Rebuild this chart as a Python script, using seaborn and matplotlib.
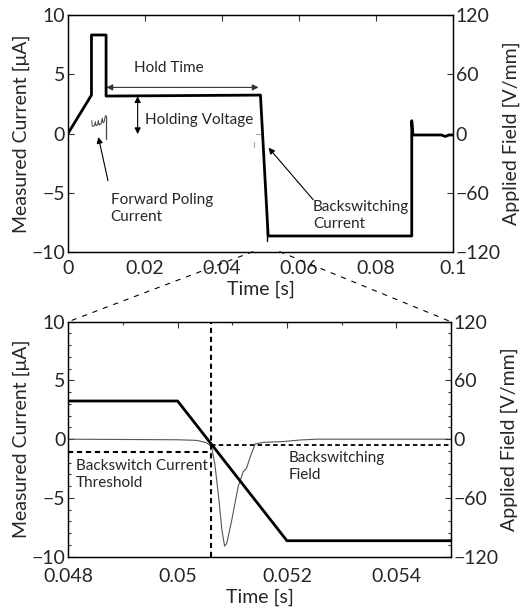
import numpy as np
import pandas as pd
import matplotlib
matplotlib.use("Agg")
import matplotlib.pyplot as plt
import seaborn as sns
from matplotlib.patches import ConnectionPatch
from matplotlib.ticker import MultipleLocator, FuncFormatter

sns.set_style("white")
plt.rcParams['font.family'] = ['Lato', 'DejaVu Sans']
plt.rcParams['axes.unicode_minus'] = True

# ---------------- data ----------------
# Top panel: applied field waveform (V/mm)
field_top_t = [0.0, 0.0061, 0.0061, 0.0099, 0.0099, 0.0500, 0.0520, 0.0893, 0.0893, 0.0896, 0.0970, 0.0980, 0.0990, 0.1000]
field_top_v = [0.0, 39.0, 100.0, 100.0, 38.0, 39.0, -104.0, -104.0, 13.0, -1.5, -1.5, -3.0, -1.5, -1.5]

# Top panel: visible fragments of the measured current (uA)
fwd_t = [0.0062, 0.0063, 0.0065, 0.0067, 0.0069, 0.0071, 0.0073, 0.0075, 0.0077, 0.0079, 0.0081, 0.0083, 0.0086, 0.0089, 0.0091, 0.0094, 0.0097, 0.0099]
fwd_i = [1.1, 0.65, 0.6, 0.65, 0.7, 1.0, 0.65, 0.7, 0.75, 1.1, 0.7, 0.8, 0.8, 1.3, 0.9, 1.0, 1.5, 1.5]
fwd_drop_t = [0.0099, 0.0099]
fwd_drop_i = [1.5, -0.5]
bsw_top_t = [0.0482, 0.0482]
bsw_top_i = [-0.7, -1.1]
bsw_dash_t = [0.0488, 0.0505]
bsw_dash_i = [-0.05, -0.05]
dip_top_t = [0.0518, 0.0518]
dip_top_i = [-7.7, -9.1]

# Bottom panel: zoomed field (V/mm) and current (uA)
field_bot_t = [0.048, 0.0500, 0.0520, 0.055]
field_bot_v = [39.0, 39.0, -103.7, -103.7]

cur_bot_t = [0.0480, 0.0500, 0.05035, 0.05053, 0.05062, 0.05068, 0.05075, 0.05081, 0.05086, 0.05090,
             0.05099, 0.05111, 0.05120, 0.05126, 0.05133, 0.05142, 0.05157, 0.05194, 0.05224, 0.05255, 0.0550]
cur_bot_i = [0.0, -0.05, -0.1, -0.3, -0.64, -2.06, -4.9, -7.7, -9.1, -8.87,
             -6.9, -4.0, -2.77, -2.48, -1.5, -0.4, -0.27, -0.2, -0.07, 0.0, 0.0]

threshold_current = -1.06     # uA
switch_time = 0.05061         # s
backswitch_field = -6.0       # V/mm

top_xticks = [0, 0.02, 0.04, 0.06, 0.08, 0.1]
bot_xticks = [0.048, 0.05, 0.052, 0.054]
left_yticks = [-10, -5, 0, 5, 10]
right_yticks = [-120, -60, 0, 60, 120]

# ---------------- figure ----------------
fig = plt.figure(figsize=(5.31, 6.11), dpi=100)
ax1 = fig.add_axes([0.128, 0.588, 0.725, 0.387])
ax2 = fig.add_axes([0.1286, 0.0889, 0.7205, 0.3846])

FS = 14
AFS = 11

def gfmt(v, pos):
    s = ('%g' % v)
    return s.replace('-', '\u2212')

def style(ax, twin, xlim, xticks, minor, xpad):
    ax.set_xlim(*xlim)
    ax.set_ylim(-10, 10)
    twin.set_ylim(-120, 120)
    ax.set_xticks(xticks)
    ax.set_yticks(left_yticks)
    twin.set_yticks(right_yticks)
    ax.xaxis.set_major_formatter(FuncFormatter(gfmt))
    ax.yaxis.set_major_formatter(FuncFormatter(gfmt))
    twin.yaxis.set_major_formatter(FuncFormatter(gfmt))
    if minor:
        ax.xaxis.set_minor_locator(MultipleLocator(0.001))
        ax.yaxis.set_minor_locator(MultipleLocator(1))
        twin.yaxis.set_minor_locator(MultipleLocator(12))
    for a in (ax, twin):
        a.tick_params(axis='both', which='both', direction='in', labelsize=FS,
                      top=True, length=4, width=0.8, pad=2, color='#333333')
        a.tick_params(which='minor', length=2.5)
        for sp in a.spines.values():
            sp.set_linewidth(0.9)
            sp.set_color('black')
            sp.set_visible(True)
    ax.tick_params(axis='x', pad=xpad)
    ax.tick_params(axis='y', right=False)
    twin.tick_params(axis='y', left=False)
    ax.set_xlabel('Time [s]', fontsize=FS, labelpad=2.5)
    ax.set_ylabel('Measured Current [\u03bcA]', fontsize=FS, labelpad=1)
    twin.set_ylabel('Applied Field [V/mm]', fontsize=FS, labelpad=1)

# ---- top panel ----
tw1 = ax1.twinx()
sns.lineplot(x=fwd_t, y=fwd_i, ax=ax1, color='#444444', lw=0.7, sort=False, estimator=None)
sns.lineplot(x=fwd_drop_t, y=fwd_drop_i, ax=ax1, color='#444444', lw=0.9, sort=False, estimator=None)
sns.lineplot(x=bsw_top_t, y=bsw_top_i, ax=ax1, color='#aaaaaa', lw=0.9, sort=False, estimator=None)
sns.lineplot(x=bsw_dash_t, y=bsw_dash_i, ax=ax1, color='#999999', lw=0.7, sort=False, estimator=None)
sns.lineplot(x=dip_top_t, y=dip_top_i, ax=ax1, color='black', lw=1.0, sort=False, estimator=None)
sns.lineplot(x=field_top_t, y=field_top_v, ax=tw1, color='black', lw=2.0, sort=False, estimator=None)
style(ax1, tw1, (0, 0.1), top_xticks, False, 6)

# annotations (top)
ax1.annotate('', xy=(0.0100, 3.9), xytext=(0.0495, 3.9),
             arrowprops=dict(arrowstyle='<|-|>', color='#333333', lw=0.8, mutation_scale=9, shrinkA=0, shrinkB=0))
ax1.text(0.0262, 5.5, 'Hold Time', fontsize=AFS, ha='center', va='center')
ax1.annotate('', xy=(0.0181, 3.15), xytext=(0.0181, -0.05),
             arrowprops=dict(arrowstyle='<|-|>', color='black', lw=0.8, mutation_scale=9, shrinkA=0, shrinkB=0))
ax1.text(0.0200, 1.1, 'Holding Voltage', fontsize=AFS, ha='left', va='center')
ax1.annotate('', xy=(0.0079, -0.3), xytext=(0.0104, -4.0),
             arrowprops=dict(arrowstyle='-|>', color='black', lw=0.8, mutation_scale=9, shrinkA=0, shrinkB=0))
ax1.text(0.0111, -6.35, 'Forward Poling\nCurrent', fontsize=AFS, ha='left', va='center', linespacing=1.25)
ax1.annotate('', xy=(0.0521, -1.2), xytext=(0.0637, -5.6),
             arrowprops=dict(arrowstyle='-|>', color='black', lw=0.8, mutation_scale=9, shrinkA=0, shrinkB=0))
ax1.text(0.0636, -6.95, 'Backswitching\nCurrent', fontsize=AFS, ha='left', va='center', linespacing=1.25)

# ---- bottom panel ----
tw2 = ax2.twinx()
sns.lineplot(x=cur_bot_t, y=cur_bot_i, ax=ax2, color='#555555', lw=0.8, sort=False, estimator=None)
ax2.axvline(switch_time, color='black', lw=1.5, ls=(0, (2.5, 1.8)))
sns.lineplot(x=[0.048, switch_time], y=[threshold_current, threshold_current], ax=ax2,
             color='black', lw=1.5, linestyle=(0, (2.5, 1.8)), sort=False, estimator=None)
sns.lineplot(x=[switch_time, 0.055], y=[backswitch_field, backswitch_field], ax=tw2,
             color='black', lw=1.3, linestyle=(0, (2.5, 1.8)), sort=False, estimator=None)
sns.lineplot(x=field_bot_t, y=field_bot_v, ax=tw2, color='black', lw=2.0, sort=False, estimator=None)
style(ax2, tw2, (0.048, 0.055), bot_xticks, True, 8)
ax2.text(0.04814, -3.0, 'Backswitch Current\nThreshold', fontsize=AFS, ha='left', va='center', linespacing=1.25)
ax2.text(0.05204, -2.3, 'Backswitching\nField', fontsize=AFS, ha='left', va='center', linespacing=1.25)

# zoom connectors
for xv in (0.048, 0.055):
    con = ConnectionPatch(xyA=(xv, -10), coordsA=ax1.transData,
                          xyB=(xv, 10), coordsB=ax2.transData,
                          color='black', lw=0.8, ls=(0, (4, 6)))
    fig.add_artist(con)

fig.savefig('out.png', dpi=100)
